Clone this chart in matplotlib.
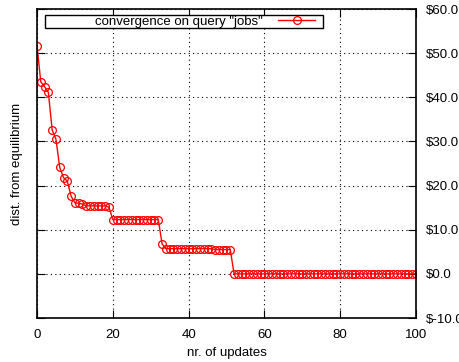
import numpy as np
import matplotlib.pyplot as plt
from matplotlib.ticker import FuncFormatter
from matplotlib.patches import Rectangle

plt.rcParams['font.family'] = ['Liberation Sans', 'DejaVu Sans']

# distance from equilibrium after each update
head = [51.7, 43.5, 42.4, 41.1, 32.6, 30.5, 24.1, 21.8, 21.0, 17.6,
        16.1, 16.0, 15.8, 15.4, 15.4, 15.4, 15.4, 15.4, 15.4, 15.1]
step2 = [12.3] * 13          # updates 20..32
step3 = [6.8] + [5.7] * 13 + [5.5] * 5   # updates 33..51
tail = [0.0] * 49            # updates 52..100
dist = head + step2 + step3 + tail
updates = list(range(len(dist)))

label = 'convergence on query "jobs"'

fig = plt.figure(figsize=(4.59, 3.62), dpi=100)
ax = fig.add_axes([0.0806, 0.1215, 0.8257, 0.8536])

ax.plot(updates, dist, color='red', lw=1, marker='o', mfc='none',
        mec='red', ms=5.6, mew=0.9, label=label)

ax.set_xlim(0, 100)
ax.set_ylim(-10, 60)
ax.set_xticks(range(0, 101, 20))
ax.set_yticks(range(-10, 61, 10))
ax.yaxis.set_major_formatter(FuncFormatter(lambda v, p: '$%.1f' % v))
ax.yaxis.tick_right()
ax.tick_params(direction='in', length=6, width=0.8, labelsize=9.5,
               top=True, bottom=True, left=True, right=True,
               labelleft=False, labelright=True)
ax.tick_params(axis='x', pad=8)
ax.tick_params(axis='y', pad=7)
ax.grid(True, color='black', ls=(0, (1, 3)), lw=0.8)
for s in ax.spines.values():
    s.set_linewidth(1.2)

ax.set_xlabel('nr. of updates', fontsize=9.5, labelpad=4)
ax.yaxis.set_label_position('left')
ax.set_ylabel('dist. from equilibrium', fontsize=9.5, labelpad=10)

# gnuplot-like key box, wider than its content
box = Rectangle((0.0211, 0.9385), 0.7335, 0.0421, transform=ax.transAxes,
                fc='white', ec='black', lw=1, zorder=5)
ax.add_patch(box)
leg = ax.legend(loc='center right', bbox_to_anchor=(0.7335, 0.9595), markerfirst=False,
                frameon=False, fontsize=9.5, borderpad=0, handlelength=2.8,
                handletextpad=1.15, borderaxespad=0)
leg.set_zorder(6)

fig.savefig('out.png', dpi=100)
